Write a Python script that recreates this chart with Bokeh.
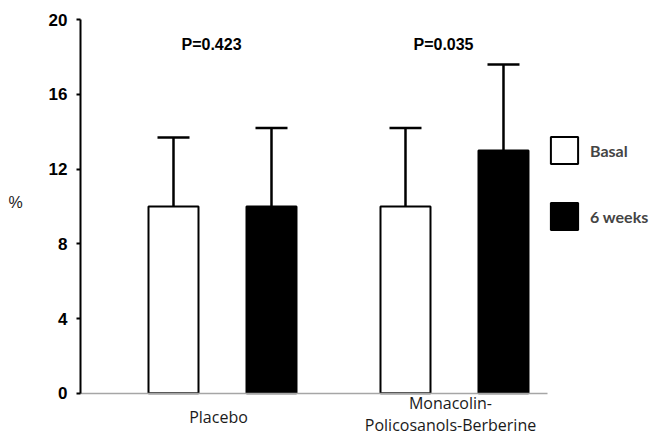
from bokeh.plotting import figure
from bokeh.models import (ColumnDataSource, Range1d, Whisker, TeeHead, Legend,
                          LegendItem, FixedTicker)
from bokeh.core.properties import value
from bokeh.embed import file_html
from bokeh.resources import INLINE

# ---- data ----
groups = ["Placebo", "Monacolin-\nPolicosanols-Berberine"]
series = ["Basal", "6 weeks"]
basal_mean = [10.0, 10.0]
basal_sd = [3.7, 4.2]
week6_mean = [10.0, 13.0]
week6_sd = [4.2, 4.6]
p_values = ["P=0.423", "P=0.035"]
y_ticks = [0, 4, 8, 12, 16, 20]
y_label = "%"

gx = [1, 2]
dodge = 0.2112
bw = 0.2155
x_start, y_axis_x, x_axis_end, x_end = 0.0431, 0.3879, 2.4009, 2.8578
y_bottom, y_top = -2.266, 21.034

src_b = ColumnDataSource(dict(x=[g - dodge for g in gx], top=basal_mean,
                              upper=[m + s for m, s in zip(basal_mean, basal_sd)]))
src_w = ColumnDataSource(dict(x=[g + dodge for g in gx], top=week6_mean,
                              upper=[m + s for m, s in zip(week6_mean, week6_sd)]))

p = figure(width=653, height=435, output_backend="svg", toolbar_location=None,
           x_range=Range1d(x_start, x_end), y_range=Range1d(y_bottom, y_top),
           min_border=0)
p.outline_line_color = None
p.xgrid.visible = False
p.ygrid.visible = False
p.background_fill_color = "white"
p.border_fill_color = "white"

# error bars
for src in (src_b, src_w):
    wk = Whisker(source=src, base="x", lower="top", upper="upper",
                 line_color="black", line_width=2.5,
                 upper_head=TeeHead(size=32, line_width=2.5, line_color="black"),
                 lower_head=None, level="underlay")
    p.add_layout(wk)

rb = p.vbar(x="x", top="top", width=bw, source=src_b, fill_color="white",
            line_color="black", line_width=2)
rw = p.vbar(x="x", top="top", width=bw, source=src_w, fill_color="black",
            line_color="black", line_width=2)

# p-values
p.text(x=gx, y=[18.7, 18.7], text=p_values, text_align="center",
       text_baseline="middle", x_offset=-11,
       text_font=value("Liberation Sans"), text_font_style="bold",
       text_font_size="16px", text_color="black")

# category labels under the baseline
p.text(x=gx, y=[-1.275, -1.12], text=groups, text_align="center",
       text_baseline="middle", x_offset=-4, text_line_height=1.0,
       text_font=value("Open Sans"), text_font_size="16px",
       text_color="#1a1a1a")

# y-axis title, horizontal, left of the tick labels
p.text(x=[x_start], y=[10.24], text=[y_label], text_align="center",
       text_baseline="middle", x_offset=15,
       text_font=value("Liberation Sans"), text_font_size="16px",
       text_color="#1a1a1a")

# y axis
ya = p.yaxis[0]
ya.ticker = FixedTicker(ticks=y_ticks)
ya.fixed_location = y_axis_x
ya.bounds = (0, 20)
ya.minor_tick_line_color = None
ya.major_tick_out = 4
ya.major_tick_in = 0
ya.major_tick_line_width = 2
ya.axis_line_width = 2
ya.axis_line_color = "black"
ya.major_label_text_font = "Liberation Sans"
ya.major_label_text_font_style = "bold"
ya.major_label_text_font_size = "17px"
ya.major_label_text_color = "black"
ya.major_label_standoff = 9

# x axis: grey baseline at y = 0
xa = p.xaxis[0]
xa.ticker = FixedTicker(ticks=[])
xa.fixed_location = 0
xa.bounds = (y_axis_x, x_axis_end)
xa.minor_tick_line_color = None
xa.major_tick_line_color = None
xa.major_tick_out = 0
xa.major_tick_in = 0
xa.major_label_standoff = 0
xa.axis_line_color = "#a6a6a6"
xa.axis_line_width = 1.5

legend = Legend(items=[LegendItem(label=series[0], renderers=[rb]),
                       LegendItem(label=series[1], renderers=[rw])],
                location=(547, 202), orientation="vertical",
                glyph_width=34, glyph_height=34, label_height=34,
                label_standoff=9, spacing=32, padding=0, margin=0,
                border_line_color=None, background_fill_alpha=0,
                label_text_font="Lato", label_text_font_style="bold",
                label_text_font_size="16px", label_text_baseline="middle")
p.add_layout(legend, "center")

open("out.html", "w").write(file_html(p, INLINE))
